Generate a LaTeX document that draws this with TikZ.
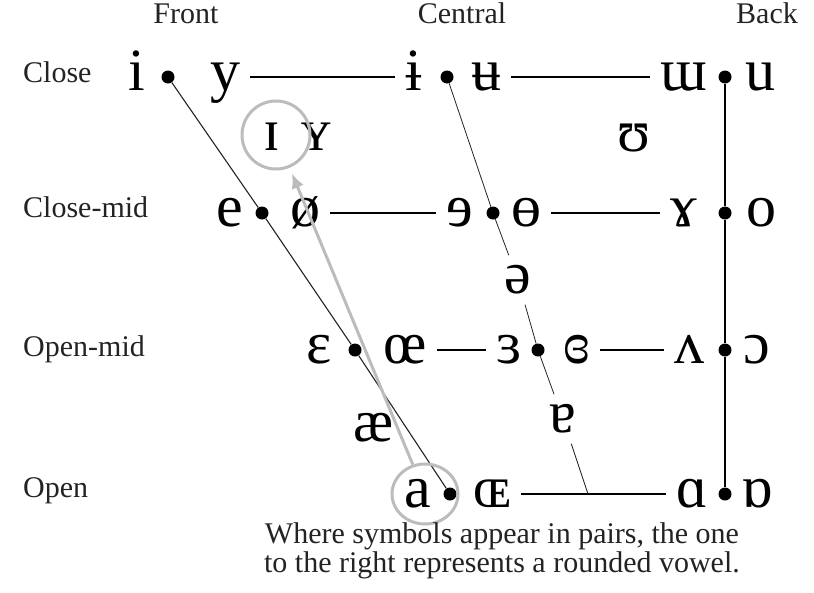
\documentclass[tikz,border=0pt]{standalone}
\usepackage{fontspec}
\setmainfont{Liberation Serif}
\usetikzlibrary{arrows.meta, positioning, shapes.geometric}
\definecolor{ringgrey}{RGB}{188, 188, 188}
\definecolor{inkgrey}{RGB}{35, 35, 35}

\begin{document}
\begin{tikzpicture}[
    x=1pt, y=-1pt,
    sym/.style={inner xsep=10pt, inner ysep=0pt, text height=27pt, text depth=0pt, font=\fontsize{60}{62}\selectfont},
    gapsym/.style={sym, inner ysep=11pt},
    vdot/.style={circle, fill, inner sep=0pt, minimum size=13pt},
    rowtext/.style={font=\fontsize{30}{32}\selectfont, text=inkgrey, inner sep=0pt, anchor=base},
    hline/.style={line width=2pt},
    sideline/.style={line width=1.1pt, draw=inkgrey},
    ring/.style={draw=ringgrey, line width=3pt},
    hint/.style={-{Latex[length=15pt, width=13pt]}, color=ringgrey, line width=3pt, shorten >=6pt}
  ]
    \useasboundingbox (0,0) rectangle (814,592);

    \node[rowtext] (front) at (186,23) {Front};
    \node[rowtext] (central) at (462,23) {Central};
    \node[rowtext] (back) at (767,23) {Back};

    \node[rowtext, anchor=base west] (close) at (23,82) {Close};
    \node[rowtext, anchor=base west] (closemid) at (23,217) {Close-mid};
    \node[rowtext, anchor=base west] (openmid) at (23,356) {Open-mid};
    \node[rowtext, anchor=base west] (open) at (23,497) {Open};

    \node[vdot] (closeF) at (168,77) {};
    \node[vdot] (closeC) at (447,77) {};
    \node[vdot] (closeB) at (725,77) {};
    \node[vdot] (cmidF) at (262,213) {};
    \node[vdot] (cmidC) at (493,213) {};
    \node[vdot] (cmidB) at (725,213) {};
    \node[vdot] (omidF) at (355,350) {};
    \node[vdot] (omidC) at (538,350) {};
    \node[vdot] (omidB) at (725,350) {};
    \node[vdot] (openF) at (450,494) {};
    \node[vdot] (openB) at (725,494) {};
    \coordinate (meet) at (588,494);

    \node[sym] (i) at (137,77) {i};
    \node[sym] (y) at (225,77) {y};
    \node[sym] (barI) at (414,77) {ɨ};
    \node[sym] (barU) at (486,77) {ʉ};
    \node[sym] (turnM) at (684,77) {ɯ};
    \node[sym] (u) at (760,77) {u};

    \node[sym] (smallI) at (272,137) {ɪ};
    \node[sym] (smallY) at (316,137) {ʏ};
    \node[sym] (horseshoe) at (634,138) {ʊ};

    \node[sym] (e) at (230,213) {e};
    \node[sym] (slashO) at (305,213) {ø};
    \node[sym] (revE) at (460,213) {ɘ};
    \node[sym] (barO) at (526,213) {ɵ};
    \node[sym] (ramsHorn) at (684,213) {ɤ};
    \node[sym] (o) at (761,213) {o};

    \node[gapsym] (schwa) at (518,280) {ə};

    \node[sym] (eps) at (319,350) {ɛ};
    \node[sym] (oe) at (405,350) {œ};
    \node[sym] (revEps) at (509,350) {ɜ};
    \node[sym] (closedRevEps) at (577,350) {ɞ};
    \node[sym] (turnV) at (689,350) {ʌ};
    \node[sym] (openO) at (757,350) {ɔ};

    \node[sym] (ash) at (374,428) {æ};
    \node[gapsym] (turnA) at (563,419) {ɐ};

    \node[sym] (a) at (418,494) {a};
    \node[sym] (smallOE) at (492,494) {ɶ};
    \node[sym] (script) at (692,494) {ɑ};
    \node[sym] (turnScript) at (757,494) {ɒ};

    \draw[hline] (y) -- (barI);
    \draw[hline] (barU) -- (turnM);
    \draw[hline] (slashO) -- (revE);
    \draw[hline] (barO) -- (ramsHorn);
    \draw[hline] (oe) -- (revEps);
    \draw[hline] (closedRevEps) -- (turnV);
    \draw[hline] (smallOE) -- (script);

    \draw[sideline] (closeF) -- (cmidF) -- (omidF) -- (openF);
    \draw[sideline, line width=0.8pt] (closeC) -- (cmidC) -- (schwa) -- (omidC) -- (turnA) -- (meet);
    \draw[hline] (closeB) -- (cmidB) -- (omidB) -- (openB);

    \node[ring, circle, minimum size=68pt] (ringI) at (276,135) {};
    \node[ring, ellipse, minimum width=66pt, minimum height=60pt] (ringA) at (425,494) {};
    \draw[hint] (ringA) -- (ringI);

    \node[rowtext] (note1) at (502,543) {Where symbols appear in pairs, the one};
    \node[rowtext] (note2) at (502,572) {to the right represents a rounded vowel.};
  \end{tikzpicture}
\end{document}
